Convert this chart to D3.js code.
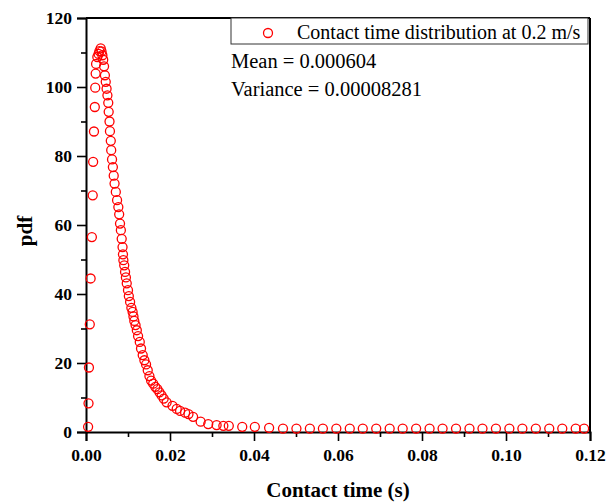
<!DOCTYPE html>
<html><head><meta charset="utf-8">
<script src="https://cdn.jsdelivr.net/npm/d3@7"></script>
<style>body{margin:0;background:#fff}svg{display:block}text{font-family:"Liberation Serif","Times New Roman",serif}</style>
</head><body>
<svg id="c" width="607" height="504"></svg>
<script>
const contactTime = [
0.0005,0.0006,0.0007,0.0009,0.0011,0.0014,0.0016,0.0017,0.0019,0.0021,0.0022,0.0023,0.0024,0.0027,0.0030,0.0032,0.0035,
0.0037,0.0039,0.0041,0.0043,0.0045,0.0047,0.0049,0.0051,0.0053,0.0054,0.0056,0.0057,0.0059,0.0060,0.0062,0.0064,0.0066,0.0068,
0.0071,0.0074,0.0077,0.0079,0.0081,0.0083,0.0085,0.0087,0.0088,0.0089,0.0091,0.0093,0.0095,0.0097,0.0100,0.0102,0.0105,0.0108,
0.0111,0.0113,0.0115,0.0118,0.0121,0.0124,0.0128,0.0131,0.0135,0.0139,0.0143,0.0147,0.0151,0.0155,0.0160,0.0165,0.0170,0.0175,
0.0180,0.0185,0.0192,0.0206,0.0216,0.0224,0.0236,0.0244,0.0255,0.0273,0.0291,0.0311,0.0327,0.0340,0.0372,0.0402,0.0436,
0.0469,0.0501,0.0533,0.0564,0.0596,0.0628,0.0659,0.0691,0.0723,0.0754,0.0786,0.0818,0.0849,0.0881,0.0913,0.0944,0.0976,
0.1008,0.1039,0.1071,0.1103,0.1134,0.1166,0.1186];
const pdfValues = [
1.5,8.3,18.7,31.2,44.5,56.5,68.6,78.3,87.1,94.2,99.8,103.9,106.7,108.7,109.6,110.4,111.2,
110.3,109.2,107.9,106.0,103.4,101.5,99.5,97.6,95.4,92.8,90.0,87.2,84.4,81.7,79.0,76.8,74.3,72.0,
69.6,67.2,65.2,63.1,60.4,58.5,56.0,53.6,51.5,49.8,48.3,46.4,44.8,43.1,41.1,39.4,37.7,36.0,
34.8,33.5,32.2,31.0,29.5,27.8,26.1,24.2,22.3,20.8,19.6,17.9,16.2,14.9,14.0,13.1,12.4,11.5,
10.6,9.7,8.6,7.6,6.7,6.1,5.6,5.2,4.4,3.0,2.3,2.0,1.8,1.8,1.5,1.5,1.2,
1.0,1.0,1.0,1.0,1.0,1.0,1.0,1.0,1.0,1.0,1.0,1.0,1.0,1.0,1.0,1.0,1.0,
1.0,1.0,1.0,1.0,1.0,1.0,1.0];
const xMajorTicks = [0,0.02,0.04,0.06,0.08,0.10,0.12];
const xMinorTicks = [0.01,0.03,0.05,0.07,0.09,0.11];
const yMajorTicks = [0,20,40,60,80,100,120];
const yMinorTicks = [10,30,50,70,90,110];
const legendLabel = "Contact time distribution at 0.2 m/s";
const statLines = ["Mean = 0.000604","Variance = 0.00008281"];

const L=86,R=590,T=18,B=432;
const x=d3.scaleLinear().domain([0,0.12]).range([L,R]);
const y=d3.scaleLinear().domain([0,120]).range([B,T]);
const svg=d3.select("#c");

svg.append("line").attr("x1",L).attr("x2",R).attr("y1",T).attr("y2",T).attr("stroke","#000").attr("stroke-width",2);
svg.append("line").attr("x1",R).attr("x2",R).attr("y1",T).attr("y2",B).attr("stroke","#000").attr("stroke-width",2);

const xAx=svg.append("g").attr("transform",`translate(0,${B})`)
  .call(d3.axisBottom(x).tickValues(xMajorTicks).tickFormat(d3.format(".2f")).tickSize(9).tickPadding(4));
svg.append("g").attr("transform",`translate(0,${B})`)
  .call(d3.axisBottom(x).tickValues(xMinorTicks).tickFormat("").tickSize(5)).select(".domain").remove();
const yAx=svg.append("g").attr("transform",`translate(${L},0)`)
  .call(d3.axisLeft(y).tickValues(yMajorTicks).tickFormat(d3.format("d")).tickSize(9).tickPadding(5));
svg.append("g").attr("transform",`translate(${L},0)`)
  .call(d3.axisLeft(y).tickValues(yMinorTicks).tickFormat("").tickSize(5)).select(".domain").remove();
svg.selectAll(".domain").attr("stroke-width",2).attr("stroke","#000");
svg.selectAll(".tick line").attr("stroke-width",1.6).attr("stroke","#000");
svg.selectAll(".tick text").attr("font-family","Liberation Serif").attr("font-weight","bold").attr("font-size",17.5).attr("fill","#000");
xAx.selectAll(".tick text").attr("dy","0.9em");

svg.append("g").selectAll("circle").data(contactTime.map((t,i)=>[t,pdfValues[i]])).join("circle")
  .attr("cx",d=>x(d[0])).attr("cy",d=>y(d[1])).attr("r",4.5)
  .attr("fill","none").attr("stroke","#ff0000").attr("stroke-width",1.3);

svg.append("rect").attr("x",231).attr("y",T).attr("width",357).attr("height",26)
  .attr("fill","#fff").attr("stroke","#333").attr("stroke-width",1);
svg.append("circle").attr("cx",268).attr("cy",33).attr("r",4.5).attr("fill","none").attr("stroke","#ff0000").attr("stroke-width",1.3);
svg.append("text").attr("x",297).attr("y",39).attr("font-size",20).text(legendLabel);
svg.selectAll(".stat").data(statLines).join("text").attr("class","stat")
  .attr("x",231).attr("y",(d,i)=>68+i*28).attr("font-size",20.5).text(d=>d);

svg.append("text").attr("x",338).attr("y",497).attr("text-anchor","middle")
  .attr("font-weight","bold").attr("font-size",21).text("Contact time (s)");
svg.append("text").attr("transform","translate(32,231) rotate(-90)").attr("text-anchor","middle")
  .attr("font-weight","bold").attr("font-size",21).text("pdf");
</script>
</body></html>
